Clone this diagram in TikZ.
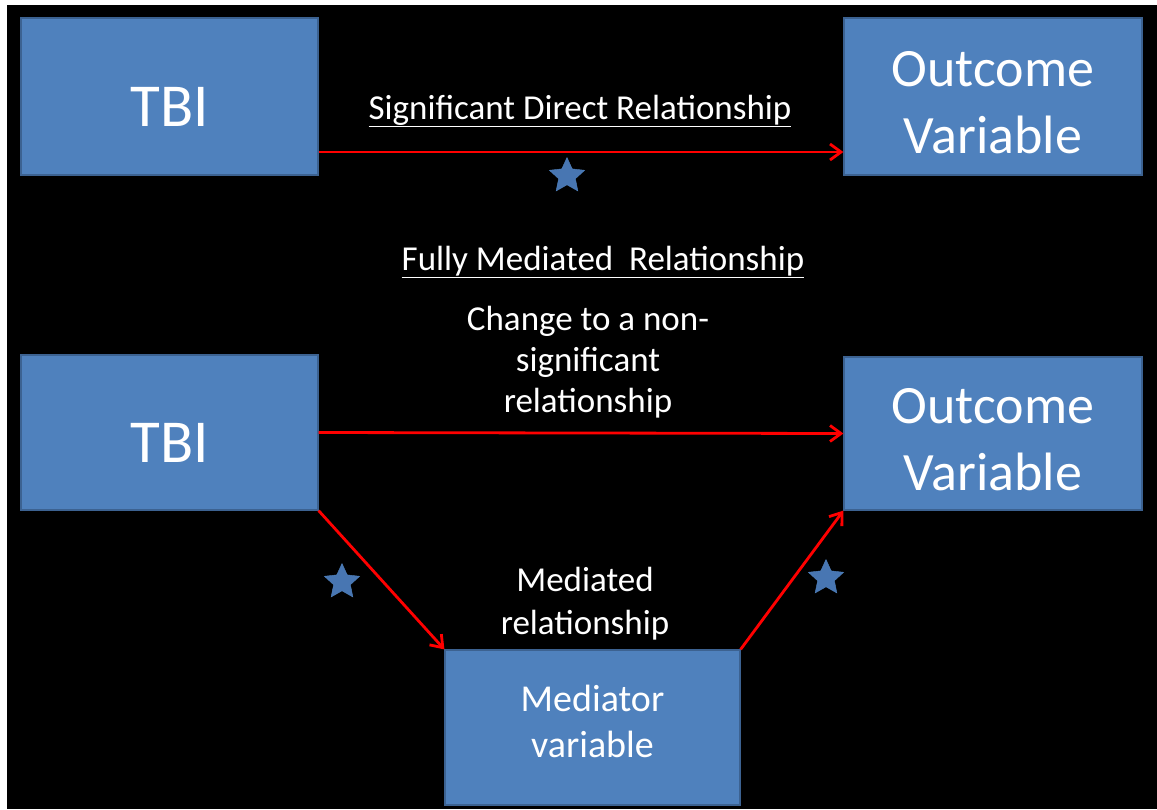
\documentclass[tikz,border=0pt]{standalone}
\usepackage{fontspec}
\setmainfont{Carlito}
\usepackage{tikz}
\usetikzlibrary{arrows.meta, shapes.geometric}

\definecolor{boxblue}{RGB}{79,129,189}
\definecolor{boxline}{RGB}{60,98,145}
\definecolor{starblue}{RGB}{72,118,178}

\begin{document}
\begin{tikzpicture}[x=1pt, y=-1pt]
    \tikzstyle{var} = [rectangle, draw=boxline, line width=1.2pt, fill=boxblue, text=white, align=center, inner sep=0pt]
    \tikzstyle{arrow} = [-{Straight Barb[length=11pt, width=16pt]}, red, line width=2.8pt]
    \tikzstyle{lbl} = [text=white, align=center, inner sep=0pt, font=\fontsize{35}{41}\selectfont]
    \tikzstyle{sig} = [star, star points=5, star point ratio=2.1, minimum size=37pt, inner sep=0pt, fill=starblue, draw=boxblue, thin]

    \useasboundingbox (0,0) rectangle (1157,809);
    \fill[white] (0,0) rectangle (1157,809);
    \fill[black] (7,5) rectangle (1157,809);

    % direct path
    \node[var, minimum width=297pt, minimum height=157pt, font=\fontsize{61}{70}\selectfont, text height=59pt, text depth=0pt] (tbiA) at (169.5,96.5) {TBI};
    \node[var, minimum width=298pt, minimum height=157pt, font=\fontsize{54}{67}\selectfont, text height=115pt] (outA) at (993,96.5) {Outcome\\Variable};
    \node[lbl, anchor=base] (sigLbl) at (580,119) {\underline{Significant Direct Relationship}};
    \draw[arrow] ([yshift=-55.5pt]tbiA.east) -- ([yshift=-55.5pt]outA.west);
    \node[sig] (starA) at (567,176) {};

    % mediated path
    \node[lbl, anchor=base] (fullLbl) at (603,270) {\underline{Fully Mediated~~Relationship}};
    \node[lbl] (changeLbl) at (588,362) {Change to a non-\\significant\\relationship};
    \node[var, minimum width=297pt, minimum height=155pt, font=\fontsize{61}{70}\selectfont, text height=59pt, text depth=0pt] (tbiB) at (169.5,432.5) {TBI};
    \node[var, minimum width=298pt, minimum height=153pt, font=\fontsize{54}{67}\selectfont, text height=115pt] (outB) at (993,433.5) {Outcome\\Variable};
    \node[var, minimum width=295pt, minimum height=155pt, font=\fontsize{38}{46}\selectfont, text depth=13pt] (med) at (592.5,727.5) {Mediator\\variable};
    \node[lbl, font=\fontsize{35}{43}\selectfont] (medLbl) at (585,604) {Mediated\\relationship};

    \draw[arrow] (tbiB.east) -- (outB.west);
    \draw[arrow] (tbiB.south east) -- (med.north west);
    \draw[arrow] (med.north east) -- (outB.south west);
    \node[sig] (starB) at (342,582) {};
    \node[sig] (starC) at (826,578) {};
\end{tikzpicture}
\end{document}
